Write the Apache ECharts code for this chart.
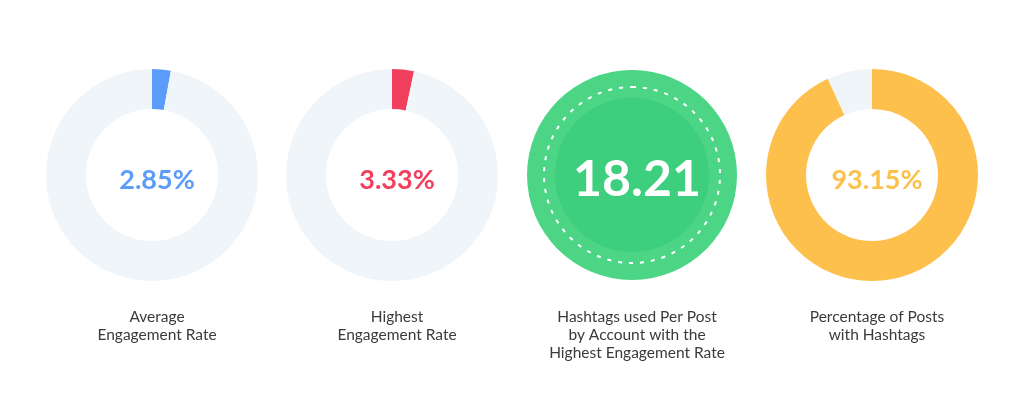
<!DOCTYPE html>
<html><head><meta charset="utf-8">
<script src="https://cdn.jsdelivr.net/npm/echarts@6/dist/echarts.min.js"></script>
<style>html,body{margin:0;background:#fff}#c{width:1023px;height:413px}</style>
</head><body><div id="c"></div>
<script>
const labels = ['Average\nEngagement Rate','Highest\nEngagement Rate','Hashtags used Per Post\nby Account with the\nHighest Engagement Rate','Percentage of Posts\nwith Hashtags'];
const values = [2.85, 3.33, 18.21, 93.15];
const displayText = ['2.85%','3.33%','18.21','93.15%'];
const colors = ['#5b9bfa','#f0405e','#48d483','#fec04c'];
const centersX = ['14.86%','38.32%','61.78%','85.24%'];
const series = [];
const titles = [];
[0,1,3].forEach(i=>{
  series.push({type:'pie',radius:[66,106],center:[centersX[i],175],startAngle:90,silent:true,
    label:{show:false},labelLine:{show:false},
    data:[{value:values[i],itemStyle:{color:colors[i]}},{value:100-values[i],itemStyle:{color:'#f0f5fa'}}]});
});
series.push({type:'pie',radius:[0,105],center:[centersX[2],175],silent:true,label:{show:false},data:[{value:1,itemStyle:{color:'#4bd585'}}]});
series.push({type:'pie',radius:[0,88],center:[centersX[2],175],silent:true,label:{show:false},data:[{value:1,itemStyle:{color:'rgba(0,0,0,0)',borderColor:'#fff',borderWidth:2,borderType:[4,7]}}]});
series.push({type:'pie',radius:[0,77],center:[centersX[2],175],silent:true,label:{show:false},data:[{value:1,itemStyle:{color:'#3dcf7e'}}]});
for(let i=0;i<4;i++){
  titles.push({text:displayText[i],left:centersX[i],top:175,textAlign:'center',textVerticalAlign:'middle',
    textStyle:{fontFamily:'Lato',fontWeight:'bold',fontSize:i==2?50:27,color:i==2?'#fff':colors[i]}});
  titles.push({text:labels[i],left:centersX[i],top:303,textAlign:'center',
    textStyle:{fontFamily:'Lato',fontWeight:'normal',fontSize:15.5,lineHeight:18,color:'#3a3a3a'}});
}
const chart = echarts.init(document.getElementById('c'));
chart.setOption({animation:false,title:titles,series:series});
</script></body></html>
